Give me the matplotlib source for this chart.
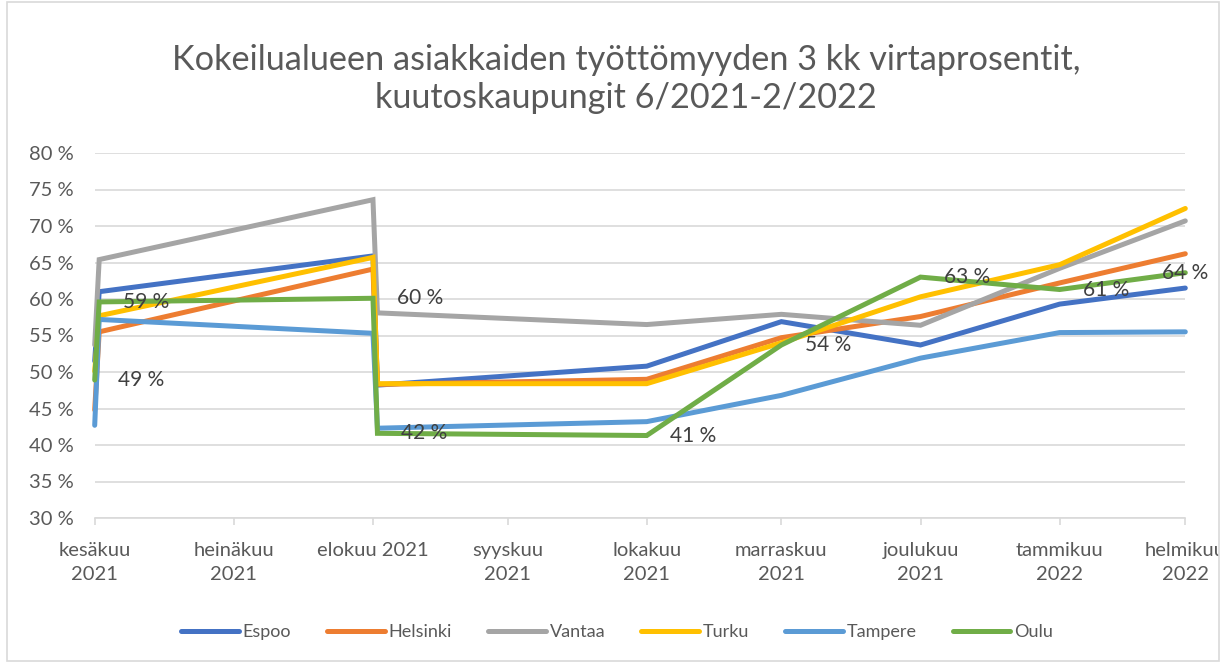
import matplotlib
matplotlib.use("Agg")
import matplotlib.pyplot as plt
from matplotlib.patches import Rectangle
import numpy as np

plt.rcParams['font.family'] = ['Lato', 'DejaVu Sans']

# data (dates as plotted on the Excel date axis)
dates = np.array(['2021-06-30', '2021-07-01', '2021-08-31', '2021-09-01', '2021-10-31',
                  '2021-11-30', '2021-12-31', '2022-01-31', '2022-02-28'], dtype='datetime64[D]')
espoo = [51.5, 61.0, 65.9, 48.2, 50.8, 56.9, 53.7, 59.3, 61.5]
helsinki = [44.8, 55.5, 64.1, 48.3, 49.0, 54.7, 57.6, 62.2, 66.2]
vantaa = [53.7, 65.4, 73.6, 58.1, 56.5, 57.9, 56.4, 64.2, 70.7]
turku = [50.1, 57.7, 65.7, 48.4, 48.4, 54.0, 60.3, 64.7, 72.4]
tampere = [42.7, 57.2, 55.3, 42.3, 43.2, 46.8, 51.9, 55.4, 55.5]
oulu = [48.9, 59.6, 60.1, 41.6, 41.3, 53.7, 63.0, 61.3, 63.6]
oulu_labels = ['49 %', '59 %', '60 %', '42 %', '41 %', '54 %', '63 %', '61 %', '64 %']

tick_dates = np.array(['2021-06-30', '2021-07-31', '2021-08-31', '2021-09-30', '2021-10-31',
                       '2021-11-30', '2021-12-31', '2022-01-31', '2022-02-28'], dtype='datetime64[D]')
tick_labels = ['kesäkuu\n2021', 'heinäkuu\n2021', 'elokuu 2021', 'syyskuu\n2021', 'lokakuu\n2021',
               'marraskuu\n2021', 'joulukuu\n2021', 'tammikuu\n2022', 'helmikuu\n2022']

series = [('Espoo', espoo, '#4472C4'), ('Helsinki', helsinki, '#ED7D31'),
          ('Vantaa', vantaa, '#A5A5A5'), ('Turku', turku, '#FFC000'),
          ('Tampere', tampere, '#5B9BD5'), ('Oulu', oulu, '#70AD47')]

fig = plt.figure(figsize=(12.28, 6.66), dpi=100)
ax = fig.add_axes([94.7 / 1228, 1 - 518 / 666, (1185.3 - 94.7) / 1228, (518 - 153) / 666])

grey_txt = '#595959'
for name, vals, col in series:
    ax.plot(dates, vals, color=col, lw=3.6, label=name, solid_capstyle='round',
            solid_joinstyle='miter', clip_on=False)

for d, v, t in zip(dates, oulu, oulu_labels):
    if d == dates[-1]:
        ax.annotate(t, (d, v), xytext=(0, 0), textcoords='offset points', ha='center', va='center',
                    fontsize=15, color='#404040')
    else:
        ax.annotate(t, (d, v), xytext=(17, 0), textcoords='offset points', ha='left', va='center',
                    fontsize=15, color='#404040')

ax.set_ylim(30, 80)
ax.set_yticks(np.arange(30, 81, 5))
ax.set_yticklabels([f'{v} %' for v in range(30, 81, 5)])
ax.set_xlim(tick_dates[0], tick_dates[-1])
ax.set_xticks(tick_dates)
ax.set_xticklabels(tick_labels)

ax.grid(axis='y', color='#D9D9D9', lw=1.2)
ax.set_axisbelow(True)
for s in ['top', 'right', 'left']:
    ax.spines[s].set_visible(False)
ax.spines['bottom'].set_color('#D9D9D9')
ax.spines['bottom'].set_linewidth(1.2)
ax.tick_params(axis='y', length=0, pad=15, labelsize=14.5, labelcolor=grey_txt)
ax.tick_params(axis='x', length=5, width=1.2, color='#D9D9D9', pad=12, labelsize=14.5, labelcolor=grey_txt)
for lbl in ax.get_xticklabels():
    lbl.set_verticalalignment('top')
    lbl.set_linespacing(1.5)

fig.text(0.51, 1 - 79 / 666, 'Kokeilualueen asiakkaiden työttömyyden 3 kk virtaprosentit,\nkuutoskaupungit 6/2021-2/2022',
         ha='center', va='center', fontsize=24.7, color=grey_txt, linespacing=1.2)

leg = ax.legend(loc='center', bbox_to_anchor=(617 / 1228, 1 - 632 / 666), bbox_transform=fig.transFigure,
                ncol=6, frameon=False, fontsize=13, handlelength=3.2, handletextpad=0.2,
                columnspacing=2.0)
for t in leg.get_texts():
    t.set_color(grey_txt)

# mask and chart border like the Excel chart area
fig.add_artist(Rectangle((1219 / 1228, 0), 1, 1, transform=fig.transFigure, color='white', zorder=10))
fig.add_artist(Rectangle((7 / 1228, 5 / 666), 1212 / 1228, 659 / 666, transform=fig.transFigure,
                         fill=False, edgecolor='#D9D9D9', lw=1.2, zorder=11))

fig.savefig('out.png', dpi=100)
plt.close()
